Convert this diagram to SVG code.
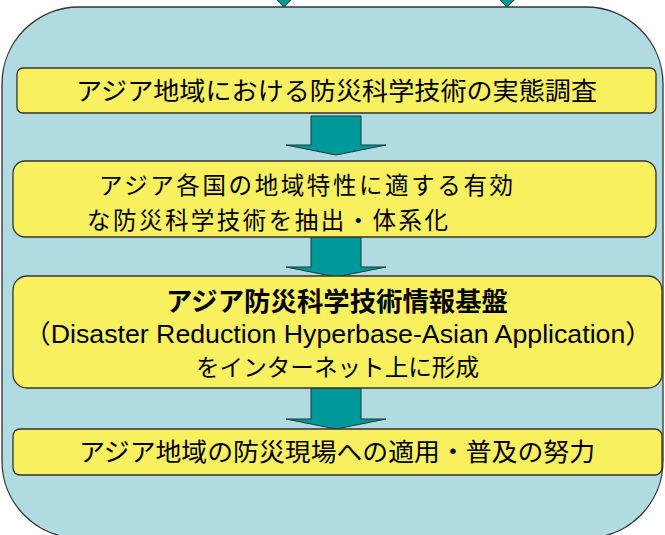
<svg xmlns="http://www.w3.org/2000/svg" width="665" height="535" viewBox="0 0 665 535">
<defs>
<style>
.bg{fill:#b0dbe0;stroke:#333;stroke-width:1.3}
.box{fill:#f8f05e;stroke:#333;stroke-width:1.3}
.arr{fill:#009999;stroke:#1a3a3a;stroke-width:1}
.t{font-family:"Noto Sans CJK JP","Noto Sans CJK SC",sans-serif;fill:#000}
.lat{font-family:"Liberation Sans","Noto Sans CJK JP",sans-serif;fill:#000}
</style>
</defs>
<rect width="665" height="535" fill="#ffffff"/>
<g id="frame">
<rect class="bg" x="2" y="7" width="661" height="531" rx="77" ry="77"/>
</g>
<g id="connectors">
<polygon class="arr" points="275,-2 293,-2 284,7"/>
<polygon class="arr" points="498,-2 516,-2 507,7"/>
<polygon class="arr" points="311,116 361,116 361,145 386,145 336,155 286,145 311,145"/>
<polygon class="arr" points="311,237 361,237 361,267 386,267 336,277 286,267 311,267"/>
<polygon class="arr" points="311,388 361,388 361,419 386,419 336,429 286,419 311,419"/>
</g>
<g id="node1">
<rect class="box" x="17" y="68" width="639" height="45" rx="6"/>
<text class="t" x="76" y="100" font-size="25" textLength="521" lengthAdjust="spacingAndGlyphs">アジア地域における防災科学技術の実態調査</text>
</g>
<g id="node2">
<rect class="box" x="13" y="161" width="643" height="76" rx="12"/>
<text class="t" x="99" y="194" font-size="23.5" textLength="414" lengthAdjust="spacing">アジア各国の地域特性に適する有効</text>
<text class="t" x="87" y="228.5" font-size="23.5" textLength="361" lengthAdjust="spacing">な防災科学技術を抽出・体系化</text>
</g>
<g id="node3">
<rect class="box" x="13" y="276" width="649" height="112" rx="14"/>
<text class="t" x="166" y="311" font-size="26" font-weight="bold" textLength="342" lengthAdjust="spacingAndGlyphs">アジア防災科学技術情報基盤</text>
<text class="lat" x="24" y="343" font-size="26" textLength="628" lengthAdjust="spacingAndGlyphs">（Disaster Reduction Hyperbase-Asian Application）</text>
<text class="t" x="196" y="376" font-size="23.5" textLength="283" lengthAdjust="spacingAndGlyphs">をインターネット上に形成</text>
</g>
<g id="node4">
<rect class="box" x="13" y="429" width="649" height="46" rx="7"/>
<text class="t" x="79" y="461" font-size="25.5" textLength="516" lengthAdjust="spacingAndGlyphs">アジア地域の防災現場への適用・普及の努力</text>
</g>
</svg>
